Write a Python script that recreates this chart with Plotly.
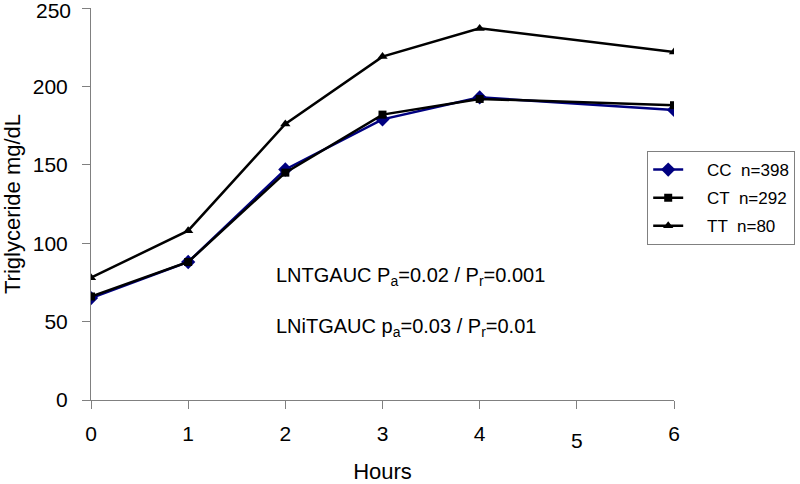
import plotly.graph_objects as go

hours = [0, 1, 2, 3, 4, 6]
cc = [65, 88, 147, 179, 193, 185]
ct = [66, 88, 145, 182, 192, 188]
tt = [78, 108, 176, 219, 237, 222]

names = ["CC  n=398", "CT  n=292", "TT  n=80"]
xticks = [0, 1, 2, 3, 4, 5, 6]
yticks = [0, 50, 100, 150, 200, 250]

FONT = "Liberation Sans, Arial, sans-serif"
PAD = "\u00a0" * 4

fig = go.Figure()
fig.add_trace(go.Scatter(x=hours, y=cc, name=PAD + names[0], mode="lines+markers", legendgroup="a",
                         line=dict(color="#000080", width=2.5),
                         marker=dict(symbol="diamond", size=11, color="#000080")))
fig.add_trace(go.Scatter(x=hours, y=ct, name=PAD + names[1], mode="lines+markers", legendgroup="b",
                         line=dict(color="black", width=2.5),
                         marker=dict(symbol="square", size=8, color="black")))
fig.add_trace(go.Scatter(x=hours, y=tt, name=PAD + names[2], mode="lines+markers", legendgroup="c",
                         line=dict(color="black", width=2.5),
                         marker=dict(symbol="triangle-up", size=9, color="black")))

xticktext = [str(v) if v != 5 else "" for v in xticks]
yticktext = [str(v) if v != 250 else "" for v in yticks]

fig.update_layout(
    width=800, height=484,
    margin=dict(l=91, r=126, t=8, b=84, autoexpand=False),
    paper_bgcolor="white", plot_bgcolor="white",
    font=dict(family=FONT, size=21, color="black"),
    showlegend=True,
    legend=dict(xref="container", yref="container", x=0.809, y=0.688,
                xanchor="left", yanchor="top",
                bordercolor="#808080", borderwidth=1, bgcolor="white",
                font=dict(size=17), traceorder="grouped", tracegroupgap=3),
    xaxis=dict(range=[0, 6], tickvals=xticks, ticktext=xticktext, automargin=False,
               showgrid=False, zeroline=False, showline=True,
               linecolor="#808080", linewidth=1, ticks="outside",
               tickcolor="#808080", ticklen=8, ticklabelstandoff=7,
               title=dict(text="Hours", standoff=36, font=dict(size=22))),
    yaxis=dict(range=[0, 250], tickvals=yticks, ticktext=yticktext, automargin=False,
               showgrid=False, zeroline=False, showline=True,
               linecolor="#808080", linewidth=1, ticks="outside",
               tickcolor="#808080", ticklen=8, ticklabelstandoff=10,
               title=dict(text="Triglyceride mg/dL", standoff=15, font=dict(size=22))),
)

fig.add_annotation(x=5, y=0, xref="x", yref="y", text="5", showarrow=False,
                   yanchor="top", yshift=-27, font=dict(size=21))
fig.add_annotation(x=0, y=250, xref="paper", yref="y", text="250", showarrow=False,
                   xanchor="right", xshift=-18, yshift=-2, font=dict(size=21))
fig.add_annotation(x=1.88, y=78.5, xref="x", yref="y", xanchor="left",
                   text="LNTGAUC P<sub>a</sub>=0.02 / P<sub>r</sub>=0.001",
                   showarrow=False, font=dict(size=20))
fig.add_annotation(x=1.88, y=46, xref="x", yref="y", xanchor="left",
                   text="LNiTGAUC p<sub>a</sub>=0.03 / P<sub>r</sub>=0.01",
                   showarrow=False, font=dict(size=20))

fig.write_html("out.html", config={"displayModeBar": False},
               post_script="document.body.style.margin='0px';")
